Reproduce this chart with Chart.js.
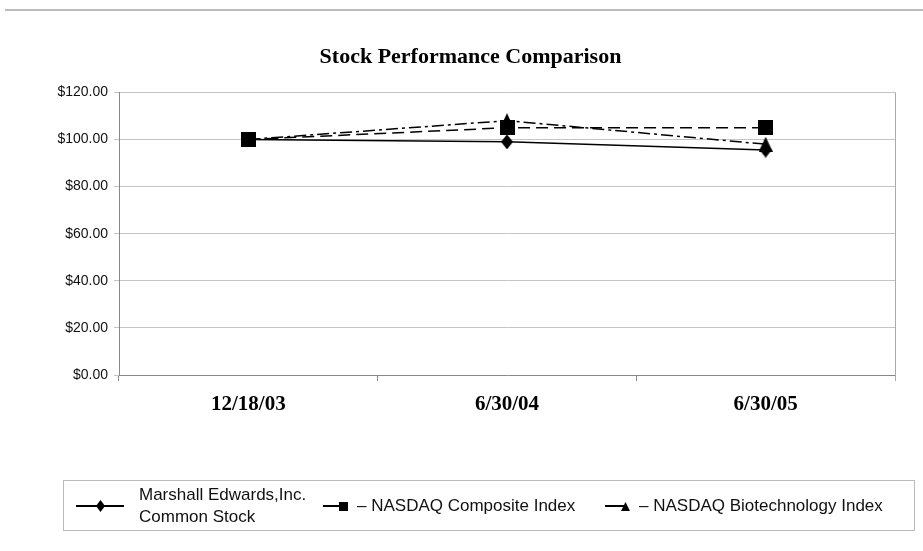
<!DOCTYPE html>
<html>
<head>
<meta charset="utf-8">
<script src="https://cdn.jsdelivr.net/npm/chart.js@4/dist/chart.umd.min.js"></script>
<style>
  body { margin: 0; background: #fff; }
  #wrap { position: relative; width: 923px; height: 551px; overflow: hidden; }
  #rule { position: absolute; left: 5px; top: 9px; width: 918px; height: 0; border-top: 2px solid #bbb; }
  #chart { position: absolute; left: 0; top: 0; }
  #legend {
    position: absolute; left: 63px; top: 480px; width: 850px; height: 49px;
    border: 1px solid #bbb; font-family: "Liberation Sans", Arial, sans-serif;
    font-size: 17px; color: #111;
  }
  .item { position: absolute; top: 0; height: 49px; display: flex; align-items: center; white-space: nowrap; }
  .item canvas { margin-right: 6px; }
  .item span { line-height: 22px; }
</style>
</head>
<body>
<div id="wrap">
  <div id="rule"></div>
  <canvas id="chart" width="923" height="551"></canvas>
  <div id="legend"></div>
</div>
<script>
"use strict";

var categories = ["12/18/03", "6/30/04", "6/30/05"];
var seriesNames = ["Marshall Edwards,Inc.\nCommon Stock", "\u2013 NASDAQ Composite Index", "\u2013 NASDAQ Biotechnology Index"];
var marshallValues = [100, 99, 95.5];
var compositeValues = [100, 105, 105];
var biotechValues = [100, 108, 98];
var yTicks = [0, 20, 40, 60, 80, 100, 120];

// little black marker images, used for the points and for the legend icons
function makeMarker(kind, w, h) {
  var c = document.createElement("canvas");
  c.width = w;
  c.height = h;
  var ctx = c.getContext("2d");
  ctx.fillStyle = "#000";
  ctx.beginPath();
  if (kind === "diamond") {
    ctx.moveTo(w / 2, 0);
    ctx.lineTo(w, h / 2);
    ctx.lineTo(w / 2, h);
    ctx.lineTo(0, h / 2);
  } else if (kind === "square") {
    ctx.rect(0, 0, w, h);
  } else {
    ctx.moveTo(w / 2, 0);
    ctx.lineTo(w, h);
    ctx.lineTo(0, h);
  }
  ctx.closePath();
  ctx.fill();
  return c;
}

var kinds = ["diamond", "square", "triangle"];
var dashes = [[], [12, 6], [12, 4, 3, 4]];
var pointImgs = [makeMarker("diamond", 12, 15), makeMarker("square", 15, 15), makeMarker("triangle", 14, 15)];

var plotFrame = {
  id: "plotFrame",
  beforeDatasetsDraw(chart) {
    var a = chart.chartArea;
    var ctx = chart.ctx;
    ctx.save();
    ctx.strokeStyle = "#aaa";
    ctx.lineWidth = 1;
    ctx.beginPath();
    ctx.moveTo(Math.round(a.right) + 0.5, a.top);
    ctx.lineTo(Math.round(a.right) + 0.5, a.bottom + 6);
    ctx.stroke();
    ctx.restore();
  }
};

var allValues = [marshallValues, compositeValues, biotechValues];
var datasets = allValues.map((vals, i) => ({
  label: seriesNames[i],
  data: vals,
  borderColor: "#000",
  backgroundColor: "#000",
  borderWidth: 1.5,
  borderDash: dashes[i],
  pointStyle: pointImgs[i],
  pointRadius: 7,
  tension: 0,
  order: [1, 2, 0][i]
}));

new Chart(document.getElementById("chart").getContext("2d"), {
  type: "line",
  data: { labels: categories, datasets: datasets },
  options: {
    responsive: false,
    animation: false,
    layout: { padding: { left: 46, right: 28, top: 0, bottom: 0 } },
    plugins: {
      legend: { display: false },
      tooltip: { enabled: false },
      title: {
        display: true,
        text: "Stock Performance Comparison",
        color: "#000",
        font: { family: "'Liberation Serif', 'Times New Roman', serif", size: 22, weight: "bold" },
        padding: { top: 44, bottom: 22 }
      }
    },
    scales: {
      x: {
        offset: true,
        grid: { offset: true, drawOnChartArea: false, tickLength: 6, color: "#888" },
        border: { color: "#888" },
        ticks: {
          color: "#000",
          padding: 11,
          font: { family: "'Liberation Serif', 'Times New Roman', serif", size: 21, weight: "bold" }
        },
        afterFit(scale) { scale.height = 176; }
      },
      y: {
        min: 0,
        max: 120,
        afterBuildTicks(scale) { scale.ticks = yTicks.map((v) => ({ value: v })); },
        grid: { color: "#c4c4c4", tickLength: 5 },
        border: { color: "#888" },
        ticks: {
          color: "#111",
          padding: 6,
          font: { family: "'Liberation Sans', Arial, sans-serif", size: 14 },
          callback: (v) => "$" + v.toFixed(2)
        },
        afterFit(scale) { scale.width = 73; }
      }
    }
  },
  plugins: [plotFrame]
});

// html legend, built from the same series
var legendLefts = [12, 259, 541];
var legend = document.getElementById("legend");
seriesNames.forEach((name, i) => {
  var item = document.createElement("div");
  item.className = "item";
  item.style.left = legendLefts[i] + "px";
  var icon = document.createElement("canvas");
  var iw = i === 0 ? 48 : 28;
  icon.width = iw;
  icon.height = 14;
  var ictx = icon.getContext("2d");
  ictx.strokeStyle = "#000";
  ictx.lineWidth = 2;
  ictx.beginPath();
  ictx.moveTo(0, 7);
  ictx.lineTo(i === 0 ? iw : iw - 8, 7);
  ictx.stroke();
  var mk = makeMarker(kinds[i], 9, i === 0 ? 12 : 9);
  var mx = i === 0 ? iw / 2 : iw - 8;
  ictx.drawImage(mk, Math.round(mx - mk.width / 2), Math.round(7 - mk.height / 2));
  if (i === 0) icon.style.marginRight = "15px";
  var label = document.createElement("span");
  label.innerHTML = name.replace("\n", "<br>");
  item.appendChild(icon);
  item.appendChild(label);
  legend.appendChild(item);
});
</script>
</body>
</html>
